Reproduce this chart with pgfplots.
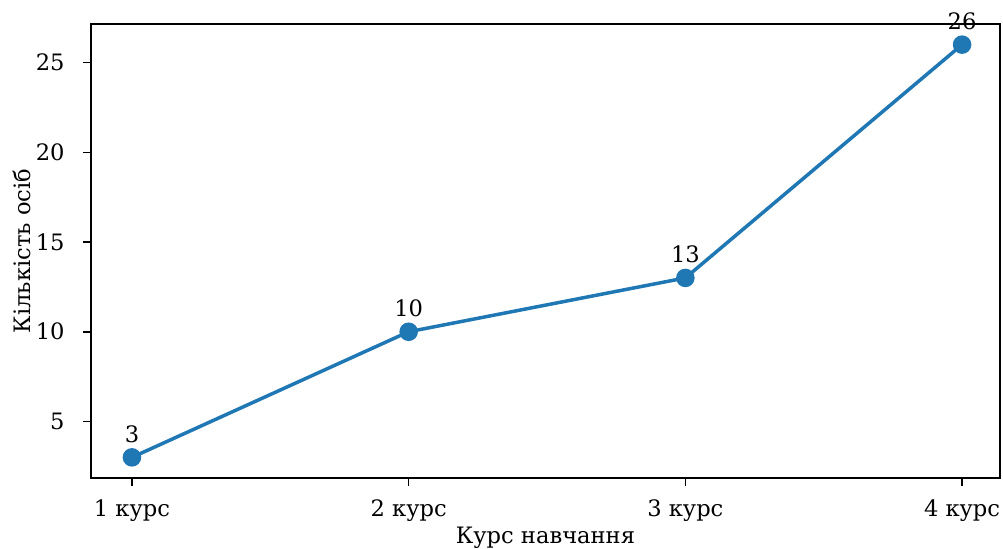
\documentclass[border=0pt]{standalone}
\usepackage{fontspec}
\setmainfont{DejaVu Serif}
\usepackage{pgfplots}
\pgfplotsset{compat=1.18}
\definecolor{mplblue}{HTML}{1F77B4}
\newcommand{\lblfont}{\fontsize{11.3pt}{13.5pt}\selectfont}
\begin{document}
\lblfont
\begin{tikzpicture}
\useasboundingbox (-45.5pt,-35pt) rectangle (456pt,239pt);
\begin{axis}[
  at={(0,0)}, anchor=south west,
  scale only axis, width=454.5pt, height=227pt,
  xmin=-0.148, xmax=3.137, ymin=1.85, ymax=27.15,
  xtick={0,1,2,3}, xticklabels={1 курс,2 курс,3 курс,4 курс},
  ytick={5,10,15,20,25},
  tick align=outside, tick pos=left, major tick length=4pt,
  every tick/.style={black, line width=0.8pt},
  axis line style={black, line width=0.8pt},
  /pgf/number format/assume math mode=true,
  ticklabel style={font=\lblfont},
  xticklabel style={inner sep=0pt, anchor=base, yshift=-15pt},
  yticklabel style={inner sep=0pt, anchor=east, xshift=-9pt},
  xlabel={Курс навчання},
  ylabel={Кількість осіб},
  label style={font=\lblfont},
  xlabel style={at={(axis description cs:0.5,0)}, anchor=base, yshift=-32.5pt, inner sep=0pt},
  ylabel style={at={(axis description cs:0,0.5)}, anchor=base, yshift=30pt, inner sep=0pt},
  nodes near coords,
  every node near coord/.append style={black, font=\lblfont, anchor=base, inner sep=0pt, yshift=7.5pt},
]
\addplot[mplblue, line width=1.75pt, mark=*, mark size=3.75pt,
  mark options={draw=none, fill=mplblue}]
  coordinates {(0,3) (1,10) (2,13) (3,26)};
\end{axis}
\end{tikzpicture}
\end{document}
